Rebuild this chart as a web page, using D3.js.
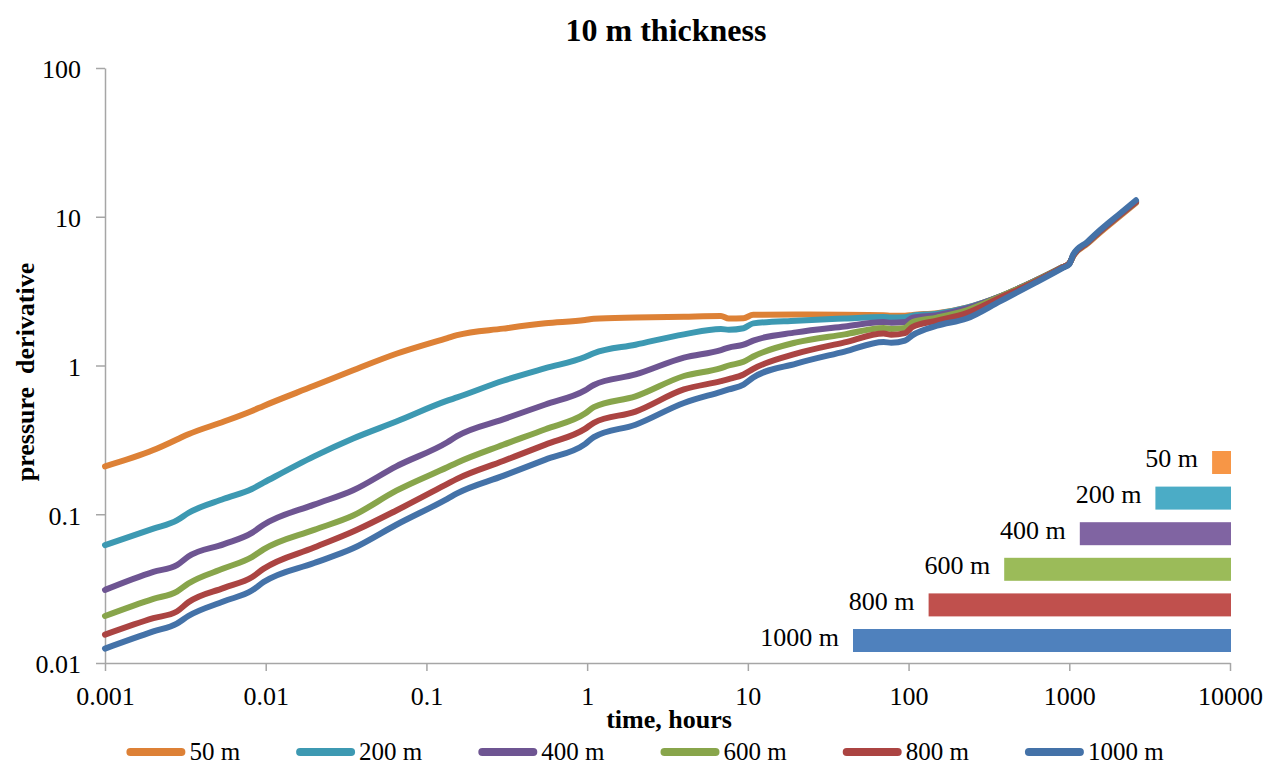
<!DOCTYPE html>
<html>
<head>
<meta charset="utf-8">
<script src="https://cdn.jsdelivr.net/npm/d3@7"></script>
<style>
  body { margin: 0; background: #fff; }
  svg { display: block; }
  text { font-family: "Liberation Serif", "Times New Roman", serif; fill: #000; }
</style>
</head>
<body>
<svg id="chart" width="1269" height="767" font-family="Liberation Serif, Times New Roman, serif"></svg>
<script>
// Time samples (hours) shared by all curves
const times = [0.001, 0.002, 0.0028, 0.0033, 0.0055, 0.0082, 0.0097, 0.02, 0.035, 0.065,
  0.135, 0.155, 0.3, 0.55, 0.97, 1.1, 2, 4, 6.8, 7.6, 9.4, 10.8, 20, 40, 70, 78, 95, 106,
  150, 230, 370, 600, 900, 1000, 1060, 1300, 1550, 2000, 2600];

// Pressure derivative per fracture half-length
const deriv50 = [0.21, 0.27, 0.318, 0.345, 0.42, 0.495, 0.535, 0.73, 0.93, 1.20,
  1.53, 1.60, 1.77, 1.92, 2.02, 2.06, 2.10, 2.13, 2.15, 2.07, 2.08, 2.19, 2.20, 2.19, 2.18, 2.16, 2.16, 2.19,
  2.25, 2.45, 2.91, 3.67, 4.56, 4.85, 5.45, 6.6, 7.8, 9.8, 12.4];
const deriv200 = [0.062, 0.080, 0.091, 0.102, 0.127, 0.148, 0.163, 0.245, 0.323, 0.42,
  0.58, 0.61, 0.79, 0.96, 1.14, 1.21, 1.38, 1.62, 1.76, 1.74, 1.78, 1.92, 2.0, 2.07, 2.12, 2.10, 2.11, 2.16,
  2.23, 2.45, 2.91, 3.67, 4.56, 4.85, 5.5, 6.7, 7.95, 10.0, 12.6];
const deriv400 = [0.031, 0.041, 0.0455, 0.052, 0.063, 0.075, 0.085, 0.116, 0.145, 0.21,
  0.305, 0.335, 0.434, 0.547, 0.68, 0.74, 0.87, 1.13, 1.27, 1.32, 1.38, 1.47, 1.67, 1.83, 1.96, 1.94, 1.96, 2.10,
  2.18, 2.42, 2.91, 3.67, 4.56, 4.85, 5.5, 6.7, 7.95, 10.0, 12.6];
const deriv600 = [0.0207, 0.027, 0.0302, 0.0342, 0.0433, 0.0515, 0.058, 0.0785, 0.098, 0.144,
  0.207, 0.222, 0.293, 0.373, 0.475, 0.525, 0.62, 0.85, 0.96, 1.0, 1.06, 1.15, 1.43, 1.62, 1.79, 1.76, 1.79, 1.96,
  2.10, 2.35, 2.90, 3.66, 4.56, 4.85, 5.5, 6.7, 7.95, 10.0, 12.6];
const deriv800 = [0.0155, 0.020, 0.0222, 0.0256, 0.032, 0.0377, 0.043, 0.0597, 0.0765, 0.106,
  0.16, 0.173, 0.228, 0.294, 0.375, 0.412, 0.49, 0.69, 0.785, 0.81, 0.87, 0.95, 1.20, 1.43, 1.64, 1.61, 1.65, 1.82,
  2.0, 2.25, 2.85, 3.62, 4.55, 4.85, 5.5, 6.7, 7.95, 10.0, 12.6];
const deriv1000 = [0.0125, 0.0163, 0.0184, 0.0207, 0.026, 0.0307, 0.035, 0.047, 0.059, 0.085,
  0.127, 0.138, 0.181, 0.233, 0.296, 0.33, 0.40, 0.56, 0.665, 0.69, 0.745, 0.83, 1.03, 1.24, 1.44, 1.42, 1.47, 1.60,
  1.85, 2.07, 2.70, 3.55, 4.5, 4.8, 5.6, 6.8, 8.1, 10.2, 12.9];

const seriesNames = ["50 m", "200 m", "400 m", "600 m", "800 m", "1000 m"];
const seriesValues = [deriv50, deriv200, deriv400, deriv600, deriv800, deriv1000];
const lineColors = ["#DD8136", "#3D99B2", "#6E5592", "#88A54B", "#AB4442", "#4472A8"];

// Half-length bars in the lower right
const barLabels = ["50 m", "200 m", "400 m", "600 m", "800 m", "1000 m"];
const barLengths = [50, 200, 400, 600, 800, 1000];
const barColors = ["#F79646", "#4BACC6", "#8064A2", "#9BBB59", "#C0504D", "#4F81BD"];

const xTickValues = [0.001, 0.01, 0.1, 1, 10, 100, 1000, 10000];
const xTickLabels = ["0.001", "0.01", "0.1", "1", "10", "100", "1000", "10000"];
const yTickValues = [0.01, 0.1, 1, 10, 100];
const yTickLabels = ["0.01", "0.1", "1", "10", "100"];

const svg = d3.select("#chart");
const axisColor = "#A6A6A6";
const fontSize = 26;

const x = d3.scaleLog().domain([0.001, 10000]).range([105, 1230]);
const y = d3.scaleLog().domain([0.01, 100]).range([663, 68]);

// Title
svg.append("text")
  .attr("x", 666).attr("y", 41)
  .attr("text-anchor", "middle")
  .style("font-size", "32px").style("font-weight", "bold")
  .text("10 m thickness");

// Axes
const yAxis = svg.append("g")
  .attr("transform", "translate(105,0)")
  .call(d3.axisLeft(y).tickValues(yTickValues)
    .tickFormat((d, i) => yTickLabels[i]).tickSize(9).tickSizeOuter(0).tickPadding(15));

const xAxis = svg.append("g")
  .attr("transform", "translate(0,663)")
  .call(d3.axisBottom(x).tickValues(xTickValues)
    .tickFormat((d, i) => xTickLabels[i]).tickSize(8).tickSizeOuter(0).tickPadding(16));

[yAxis, xAxis].forEach(g => {
  g.attr("font-family", null).attr("font-size", null);
  g.select(".domain").attr("stroke", axisColor).attr("stroke-width", 1.5);
  g.selectAll(".tick line").attr("stroke", axisColor).attr("stroke-width", 1.5);
  g.selectAll(".tick text").style("font-size", fontSize + "px").attr("fill", "#000");
});
yAxis.selectAll(".tick text").attr("dy", "0.38em");

// Axis titles
svg.append("text")
  .attr("x", 669).attr("y", 728)
  .attr("text-anchor", "middle")
  .style("font-size", "26px").style("font-weight", "bold")
  .text("time, hours");

svg.append("text")
  .attr("transform", "translate(34,372) rotate(-90)")
  .attr("text-anchor", "middle")
  .style("font-size", "26px").style("font-weight", "bold")
  .style("white-space", "pre")
  .text("pressure  derivative");

// Bars: length proportional to half-length
const barX = d3.scaleLinear().domain([0, 1000]).range([0, 378]);
const barY = d3.scaleBand().domain(barLabels).range([451, 652]).paddingInner(0.354).paddingOuter(0);
const barRight = 1231;

const bars = svg.append("g");
bars.selectAll("rect")
  .data(barLengths)
  .join("rect")
  .attr("x", d => barRight - barX(d))
  .attr("y", (d, i) => barY(barLabels[i]))
  .attr("width", d => barX(d))
  .attr("height", barY.bandwidth())
  .attr("fill", (d, i) => barColors[i]);

bars.selectAll("text")
  .data(barLengths)
  .join("text")
  .attr("x", d => barRight - barX(d) - 14)
  .attr("y", (d, i) => barY(barLabels[i]) + barY.bandwidth() / 2 + 5)
  .attr("text-anchor", "end")
  .style("font-size", fontSize + "px")
  .text((d, i) => barLabels[i]);

// Derivative curves
const line = d3.line()
  .x(d => x(d[0]))
  .y(d => y(d[1]))
  .curve(d3.curveMonotoneX);

svg.append("g")
  .selectAll("path")
  .data(seriesValues)
  .join("path")
  .attr("d", vals => line(times.map((t, i) => [t, vals[i]])))
  .attr("fill", "none")
  .attr("stroke", (d, i) => lineColors[i])
  .attr("stroke-width", 6)
  .attr("stroke-linecap", "round")
  .attr("stroke-linejoin", "round");

// Legend
const legend = svg.append("g");
const lineLen = 59, capR = 4, textGap = 4, itemGap = 56, legendY = 752;
const items = seriesNames.map((name, i) => {
  const g = legend.append("g");
  g.append("line")
    .attr("x1", capR).attr("x2", lineLen - capR)
    .attr("y1", legendY).attr("y2", legendY)
    .attr("stroke", lineColors[i]).attr("stroke-width", 8)
    .attr("stroke-linecap", "round");
  const t = g.append("text")
    .attr("x", lineLen + textGap).attr("y", legendY + 8)
    .style("font-size", "25px")
    .text(name);
  return { g, w: lineLen + textGap + t.node().getComputedTextLength() };
});
const total = d3.sum(items, d => d.w) + itemGap * (items.length - 1);
let cx = 645 - total / 2;
items.forEach(it => {
  it.g.attr("transform", `translate(${cx},0)`);
  cx += it.w + itemGap;
});
</script>
</body>
</html>
